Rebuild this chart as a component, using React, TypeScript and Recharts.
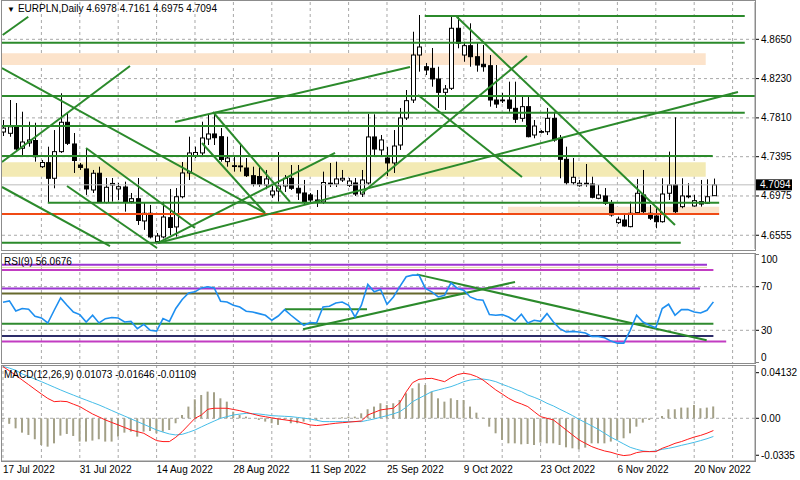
import React from 'react';
import { ComposedChart, Bar, Line, XAxis, YAxis, CartesianGrid, ReferenceLine, ReferenceArea } from 'recharts';

const FONT = '"Liberation Sans", Arial, sans-serif';
const GREEN = '#2b8a2b';
const GRID = '#a8a8a8';
const FRAME = '#8c8c8c';

const X_MIN = -0.156;
const X_MAX = 117.5;
const P_MIN = 4.6408;
const P_MAX = 4.9049;
const M_MIN = -0.0387;
const M_MAX = 0.0483;

// EURPLN daily, 17 Jul 2022 - 23 Nov 2022
const opens = [
  4.7659, 4.7645, 4.7715, 4.7485, 4.7542, 4.7568, 4.7288, 4.7331, 4.7164, 4.7449,
  4.7763, 4.7531, 4.7306, 4.7264, 4.7039, 4.7218, 4.6905, 4.7093, 4.705, 4.7071,
  4.6914, 4.6946, 4.6708, 4.679, 4.6487, 4.6537, 4.6743, 4.6644, 4.6967, 4.7221,
  4.7408, 4.7435, 4.7584, 4.7638, 4.7609, 4.7342, 4.729, 4.7287, 4.7274, 4.7192,
  4.7183, 4.7093, 4.6986, 4.7028, 4.7082, 4.7164, 4.7057, 4.7007, 4.6986, 4.6932,
  4.6911, 4.7112, 4.7103, 4.7146, 4.7087, 4.7114, 4.6996, 4.7114, 4.7606, 4.7467,
  4.7381, 4.7328, 4.752, 4.7809, 4.8001, 4.8482, 4.8357, 4.834, 4.8226, 4.8083,
  4.8126, 4.8768, 4.8482, 4.8582, 4.8464, 4.8383, 4.8368, 4.8001, 4.7996, 4.8001,
  4.7912, 4.7805, 4.793, 4.7627, 4.7659, 4.7662, 4.7805, 4.7592, 4.7367, 4.7117,
  4.7085, 4.7108, 4.7103, 4.695, 4.6975, 4.6897, 4.669, 4.6718, 4.6647, 4.6797,
  4.6986, 4.679, 4.6761, 4.67, 4.7004, 4.7093, 4.6861, 4.6972, 4.6868, 4.6914,
  4.6897, 4.6978,
];
const highs = [
  4.7787, 4.8001, 4.7969, 4.7876, 4.7769, 4.7758, 4.736, 4.7502, 4.768, 4.8073,
  4.7862, 4.7648, 4.7328, 4.7477, 4.7253, 4.7288, 4.7167, 4.7167, 4.7114, 4.7128,
  4.7007, 4.7167, 4.69, 4.6879, 4.6579, 4.6914, 4.705, 4.706, 4.7338, 4.7609,
  4.7502, 4.7769, 4.7841, 4.7862, 4.7702, 4.7609, 4.7413, 4.7541, 4.7381, 4.7288,
  4.7288, 4.7253, 4.7082, 4.7445, 4.7199, 4.7306, 4.7306, 4.7146, 4.7007, 4.7039,
  4.7235, 4.7328, 4.7342, 4.7253, 4.7167, 4.7167, 4.7253, 4.7851, 4.7848, 4.7627,
  4.7499, 4.768, 4.7916, 4.8108, 4.8731, 4.891, 4.8397, 4.8557, 4.8357, 4.8161,
  4.8891, 4.8891, 4.8624, 4.8821, 4.861, 4.8589, 4.8482, 4.8375, 4.8076, 4.8197,
  4.8197, 4.8036, 4.8054, 4.7787, 4.768, 4.7916, 4.7876, 4.7627, 4.7502, 4.7381,
  4.7146, 4.7317, 4.7181, 4.7093, 4.706, 4.6932, 4.6754, 4.6793, 4.6914, 4.7157,
  4.7253, 4.6879, 4.6861, 4.7164, 4.7449, 4.7816, 4.7164, 4.7111, 4.6986, 4.7146,
  4.7153, 4.7161,
];
const lows = [
  4.7616, 4.7608, 4.7449, 4.7413, 4.7502, 4.7342, 4.7274, 4.6905, 4.7057, 4.7435,
  4.752, 4.7221, 4.7253, 4.6986, 4.7007, 4.69, 4.6895, 4.6914, 4.6932, 4.6807,
  4.6895, 4.6665, 4.6612, 4.6521, 4.6473, 4.6521, 4.6558, 4.654, 4.695, 4.7146,
  4.7381, 4.7413, 4.752, 4.752, 4.7342, 4.7288, 4.7235, 4.7235, 4.7178, 4.7077,
  4.7074, 4.7047, 4.6954, 4.6914, 4.7018, 4.7039, 4.6932, 4.6879, 4.6911, 4.6857,
  4.6889, 4.7071, 4.7071, 4.7125, 4.7071, 4.6975, 4.6964, 4.7093, 4.7392, 4.7392,
  4.7189, 4.7221, 4.7467, 4.7787, 4.7969, 4.8304, 4.8268, 4.8143, 4.7916, 4.7894,
  4.8108, 4.8554, 4.841, 4.8357, 4.8304, 4.8304, 4.793, 4.7916, 4.7969, 4.7876,
  4.7755, 4.7769, 4.7602, 4.7592, 4.7645, 4.7627, 4.7555, 4.7164, 4.7093, 4.7093,
  4.7074, 4.7074, 4.695, 4.694, 4.6879, 4.6754, 4.6676, 4.6647, 4.664, 4.679,
  4.6772, 4.6718, 4.663, 4.669, 4.6932, 4.679, 4.6844, 4.695, 4.6861, 4.6861,
  4.6889, 4.6975,
];
const closes = [
  4.7701, 4.7715, 4.7478, 4.7552, 4.7574, 4.7395, 4.7333, 4.7164, 4.7449, 4.7763,
  4.7538, 4.7354, 4.728, 4.705, 4.7218, 4.6916, 4.7068, 4.7109, 4.7074, 4.6914,
  4.6946, 4.6713, 4.679, 4.6537, 4.6547, 4.675, 4.6638, 4.6967, 4.7221, 4.7435,
  4.744, 4.7595, 4.7638, 4.7598, 4.7365, 4.7381, 4.7299, 4.7296, 4.7192, 4.7103,
  4.7098, 4.7157, 4.7028, 4.7082, 4.7164, 4.7057, 4.7007, 4.6905, 4.6932, 4.6911,
  4.7119, 4.7103, 4.7157, 4.7164, 4.7135, 4.6996, 4.7146, 4.7606, 4.7477, 4.7574,
  4.7328, 4.7509, 4.7809, 4.7994, 4.8482, 4.8568, 4.8322, 4.8226, 4.8083, 4.8119,
  4.8768, 4.8607, 4.8582, 4.8464, 4.8375, 4.8357, 4.8001, 4.7958, 4.8001, 4.7912,
  4.7795, 4.793, 4.7609, 4.7723, 4.7664, 4.7805, 4.7574, 4.7367, 4.7117, 4.7175,
  4.7111, 4.7111, 4.6961, 4.6986, 4.6897, 4.6772, 4.6726, 4.6654, 4.679, 4.7004,
  4.6807, 4.6737, 4.67, 4.6996, 4.7093, 4.6807, 4.6975, 4.6975, 4.6925, 4.6889,
  4.6967, 4.7094,
];
const rsi9 = [
  55.8, 57.0, 47.7, 50.0, 49.3, 42.9, 41.3, 36.7, 48.4, 59.7,
  53.0, 46.8, 44.4, 37.6, 43.8, 36.7, 40.7, 41.7, 41.3, 37.6,
  38.2, 31.5, 35.5, 30.0, 29.3, 40.7, 38.2, 50.0, 58.2, 64.3,
  65.3, 68.9, 69.9, 68.9, 56.7, 56.0, 53.0, 51.4, 47.5, 46.8,
  45.3, 43.8, 39.2, 43.1, 49.0, 43.8, 39.2, 34.6, 37.1, 36.7,
  51.4, 52.1, 55.1, 56.0, 53.0, 42.2, 53.0, 72.1, 65.3, 67.5,
  53.9, 60.6, 70.0, 79.1, 80.6, 80.6, 68.4, 65.3, 60.6, 62.2,
  73.5, 68.4, 66.8, 60.6, 58.2, 57.6, 44.4, 43.8, 44.4, 42.2,
  38.5, 44.7, 36.7, 39.2, 38.2, 45.3, 37.6, 31.5, 28.4, 29.0,
  28.4, 27.5, 24.4, 24.4, 23.2, 20.1, 18.2, 18.2, 30.0, 43.8,
  37.6, 34.6, 32.4, 50.0, 53.9, 43.8, 49.0, 49.0, 46.8, 45.9,
  48.4, 56.0676,
];
const macdMain = [
  0.0468, 0.043, 0.039, 0.0347, 0.0305, 0.0262, 0.022, 0.018, 0.0151, 0.0155,
  0.0151, 0.0128, 0.0106, 0.0072, 0.0039, 0.0012, -0.0015, -0.0038, -0.006, -0.0083,
  -0.0106, -0.0121, -0.0136, -0.017, -0.0202, -0.0211, -0.0211, -0.0172, -0.0121, -0.006,
  0.0, 0.003, 0.0082, 0.0091, 0.0091, 0.0091, 0.008, 0.0069, 0.0054, 0.0039,
  0.0024, 0.0014, 0.0004, -0.0006, -0.0014, -0.0022, -0.003, -0.0045, -0.006, -0.0066,
  -0.006, -0.0052, -0.0045, -0.004, -0.0035, -0.003, -0.0024, 0.003, 0.0053, 0.0076,
  0.0084, 0.0091, 0.014, 0.024, 0.0323, 0.0353, 0.0359, 0.0362, 0.0347, 0.0332,
  0.0368, 0.0396, 0.0408, 0.0399, 0.0378, 0.0347, 0.0302, 0.0257, 0.022, 0.0181,
  0.0151, 0.013, 0.0106, 0.006, 0.0015, 0.0, -0.0015, -0.006, -0.0106, -0.0151,
  -0.0196, -0.0227, -0.0257, -0.0278, -0.0296, -0.0308, -0.0326, -0.0338, -0.0332, -0.0311,
  -0.0302, -0.0302, -0.0302, -0.0272, -0.0251, -0.0227, -0.0211, -0.019, -0.017, -0.0155,
  -0.0135, -0.01109,
];
const macdSignal = [
  0.047, 0.0455, 0.0435, 0.0402, 0.038, 0.0355, 0.0332, 0.0307, 0.0282, 0.0257,
  0.0233, 0.021, 0.0187, 0.0165, 0.0143, 0.0121, 0.0096, 0.007, 0.0045, 0.002,
  -0.0005, -0.003, -0.0055, -0.008, -0.0106, -0.0125, -0.0142, -0.0151, -0.0145, -0.0127,
  -0.0106, -0.0078, -0.0051, -0.0025, 0.0, 0.0015, 0.003, 0.0038, 0.0045, 0.0042,
  0.0039, 0.0032, 0.0024, 0.0021, 0.0018, 0.0015, 0.0008, 0.0001, -0.0006, -0.0018,
  -0.003, -0.003, -0.003, -0.003, -0.003, -0.003, -0.003, -0.0018, -0.0006, 0.0009,
  0.0024, 0.004, 0.006, 0.01, 0.0151, 0.0181, 0.0211, 0.0242, 0.0257, 0.0272,
  0.0287, 0.0308, 0.0332, 0.0347, 0.0353, 0.0356, 0.0347, 0.0332, 0.0308, 0.0287,
  0.0263, 0.0242, 0.0211, 0.019, 0.0166, 0.0136, 0.0112, 0.0082, 0.0054, 0.0024,
  -0.0009, -0.0039, -0.0069, -0.01, -0.0136, -0.0172, -0.0202, -0.0233, -0.0263, -0.0281,
  -0.0296, -0.0302, -0.0296, -0.0281, -0.0272, -0.026, -0.0245, -0.0232, -0.0218, -0.0202,
  -0.0185, -0.01646,
];
const macdHist = [
  -0.0005, -0.005, -0.0091, -0.013, -0.0151, -0.019, -0.0242, -0.0257, -0.0227, -0.0157,
  -0.0142, -0.016, -0.0211, -0.0211, -0.0202, -0.019, -0.0211, -0.0211, -0.0166, -0.013,
  -0.0121, -0.0166, -0.0121, -0.0115, -0.0136, -0.0121, -0.0106, -0.0045, 0.003, 0.0106,
  0.0172, 0.0211, 0.0242, 0.0236, 0.0181, 0.0151, 0.006, 0.003, 0.0015, 0.0,
  -0.0015, -0.003, -0.0045, -0.006, -0.0015, -0.0045, -0.0045, -0.003, -0.0009, -0.0015,
  0.0, 0.0003, 0.0005, 0.0009, 0.0015, 0.0015, 0.0045, 0.0082, 0.0106, 0.0136,
  0.0121, 0.0136, 0.0166, 0.0227, 0.0272, 0.0317, 0.0302, 0.0242, 0.0181, 0.0151,
  0.0181, 0.0166, 0.0166, 0.0106, 0.0051, 0.0006, -0.0076, -0.0136, -0.0196, -0.0227,
  -0.0227, -0.0236, -0.0233, -0.0242, -0.022, -0.0227, -0.0227, -0.0242, -0.0263, -0.0272,
  -0.0281, -0.0266, -0.0227, -0.0227, -0.0227, -0.0211, -0.0196, -0.0181, -0.0136, -0.0076,
  -0.0039, -0.0015, 0.0, 0.0021, 0.0082, 0.0082, 0.0097, 0.0097, 0.0121, 0.0091,
  0.0097, 0.01073,
];

const dateTicks = [0, 12, 24, 36, 48, 60, 72, 84, 96, 108];
const dateLabels = [
  '17 Jul 2022', '31 Jul 2022', '14 Aug 2022', '28 Aug 2022', '11 Sep 2022',
  '25 Sep 2022', '9 Oct 2022', '23 Oct 2022', '6 Nov 2022', '20 Nov 2022',
];
const weekLines = [0, 6, 12, 18, 24, 30, 36, 42, 48, 54, 60, 66, 72, 78, 84, 90, 96, 102, 108, 114];
const priceTicks = [4.865, 4.823, 4.781, 4.7395, 4.6975, 4.6555];
const rsiTicks = [0, 30, 70, 100];
const macdTicks = [0.04132, 0, -0.0335];
const macdTickLabels = ['0.04132', '0.00', '-0.0335'];

// drawn objects, in bar index / price units
const zones = [
  { x1: -0.16, x2: 109.8, y1: 4.8375, y2: 4.85, kind: 'peach' },
  { x1: -0.16, x2: 109.8, y1: 4.7181, y2: 4.7335, kind: 'khaki' },
  { x1: 78.9, x2: 111.9, y1: 4.679, y2: 4.6861, kind: 'peach' },
];
const levels = [
  { y: 4.8899, from: 65.9, to: 115.9 },
  { y: 4.8614, from: -0.16, to: 115.9 },
  { y: 4.8044, from: -0.16, to: 117.5 },
  { y: 4.7865, from: 33.1, to: 115.9 },
  { y: 4.7723, from: -0.16, to: 81.9 },
  { y: 4.7402, from: -0.16, to: 110.9 },
  { y: 4.6903, from: 7.0, to: 111.9 },
  { y: 4.6476, from: -0.16, to: 105.9 },
];
const redLevel = { y: 4.6783, from: -0.16, to: 111.9 };
const trendLines = [
  [-0.05, 4.8696, 3.95, 4.8891],
  [-0.16, 4.7338, 19.84, 4.8365],
  [-0.16, 4.8343, 40.94, 4.6793],
  [-0.16, 4.7071, 16.72, 4.644],
  [10.0, 4.7082, 24.06, 4.6419],
  [12.97, 4.7488, 30.0, 4.6633],
  [24.22, 4.6473, 51.88, 4.7435],
  [24.22, 4.6473, 114.84, 4.8087],
  [26.88, 4.7766, 63.59, 4.8354],
  [32.81, 4.7873, 44.84, 4.6911],
  [31.09, 4.7541, 40.94, 4.6793],
  [56.09, 4.7007, 81.88, 4.8471],
  [64.84, 4.8055, 81.09, 4.7178],
  [70.89, 4.8891, 105.0, 4.6665],
];
const rsiLevels = [
  { y: 90.1, to: 110 },
  { y: 87.7, to: 110 },
  { y: 85.3, to: 111 },
  { y: 68.4, to: 108.9 },
  { y: 63.8, to: 72.5 },
  { y: 36.1, to: 111 },
  { y: 24.7, to: 111 },
  { y: 19.8, to: 113 },
];
const RSI_LEVEL_COLORS = ['#9c35d2', '#e3d9a2', '#c23cc2', '#9c35d2', '#66692c', '#2f8a2f', '#2c2c68', '#c23cc2'];
const rsiTrendLines = [
  [44.06, 49.3, 56.88, 49.3],
  [46.88, 31.0, 80, 74.3],
  [64.64, 81.3, 109.95, 20.8],
];

const lastClose = closes[closes.length - 1];

const rows = opens.map((open, i) => ({
  i,
  open,
  high: highs[i],
  low: lows[i],
  close: closes[i],
  range: [lows[i], highs[i]],
  rsi: rsi9[i],
  macd: macdMain[i],
  signal: macdSignal[i],
  hist: macdHist[i],
}));

function Candle(props: any) {
  const { x, y, width, height, payload } = props;
  if (!payload || x == null) return null;
  const { open, close, high, low } = payload;
  const top = Math.min(y, y + height);
  const h = Math.abs(height);
  const span = high - low;
  const toY = (v: number) => (span === 0 ? top : top + ((high - v) / span) * h);
  const cx = Math.round(x + width / 2);
  const bodyTop = toY(Math.max(open, close));
  const bodyBot = toY(Math.min(open, close));
  const bull = close >= open;
  return (
    <g>
      <line x1={cx + 0.5} x2={cx + 0.5} y1={top} y2={top + h} stroke="#000" strokeWidth={1} />
      <rect
        x={cx - 1.5}
        y={bodyTop}
        width={4}
        height={Math.max(bodyBot - bodyTop, 0.8)}
        fill={bull ? '#fff' : '#000'}
        stroke="#000"
        strokeWidth={1}
      />
    </g>
  );
}

const textStyle = { fontFamily: FONT, fontSize: 10, fill: '#000' };

function PriceTick(props: any) {
  const { x, y, payload } = props;
  const v = payload.value;
  if (v === lastClose) {
    return (
      <g>
        <rect x={x - 6} y={y - 5.5} width={37} height={11} fill="#000" />
        <text x={x - 1} y={y} dy="0.35em" {...textStyle} fill="#fff">{v.toFixed(4)}</text>
      </g>
    );
  }
  return <text x={x} y={y} dy="0.35em" {...textStyle}>{v.toFixed(4)}</text>;
}

function RsiTick(props: any) {
  const { x, y, payload } = props;
  const v = payload.value;
  const shift = v === 100 ? 5 : v === 0 ? -6 : 0;
  return <text x={x} y={y + shift} dy="0.35em" {...textStyle}>{v}</text>;
}

function MacdTick(props: any) {
  const { x, y, payload } = props;
  const k = macdTicks.indexOf(payload.value);
  return <text x={x} y={y} dy="0.35em" {...textStyle}>{macdTickLabels[k]}</text>;
}

function DateTick(props: any) {
  const { x, y, payload } = props;
  const k = dateTicks.indexOf(payload.value);
  return <text x={x} y={y} dy={12} textAnchor="start" {...textStyle}>{dateLabels[k]}</text>;
}

const panel = (top: number, height: number): React.CSSProperties => ({
  position: 'absolute',
  left: 1,
  top,
  width: 755,
  height,
  boxSizing: 'border-box',
  border: `1px solid ${FRAME}`,
  pointerEvents: 'none',
});

const label = (left: number, top: number): React.CSSProperties => ({
  position: 'absolute',
  left,
  top,
  fontFamily: FONT,
  fontSize: 10,
  lineHeight: '12px',
  color: '#000',
  whiteSpace: 'nowrap',
});

export default function App() {
  return (
    <div style={{ position: 'absolute', left: 0, top: 0, width: 800, height: 480, background: '#fff', overflow: 'hidden' }}>
      <div style={{ position: 'absolute', left: 0, top: 0 }}>
        <ComposedChart width={800} height={250} data={rows} margin={{ top: 2, right: 0, bottom: 1, left: 2 }}>
          <CartesianGrid stroke={GRID} strokeDasharray="3 3" horizontalValues={priceTicks} verticalValues={weekLines} />
          <XAxis type="number" dataKey="i" domain={[X_MIN, X_MAX]} allowDataOverflow hide />
          <YAxis
            orientation="right"
            domain={[P_MIN, P_MAX]}
            allowDataOverflow
            ticks={[...priceTicks, lastClose]}
            interval={0}
            tick={PriceTick}
            width={45}
            tickSize={4}
            tickMargin={2}
            axisLine={{ stroke: FRAME }}
            tickLine={{ stroke: '#000' }}
          />
          {zones.map((z, k) => (
            <ReferenceArea
              key={`z${k}`}
              x1={z.x1}
              x2={z.x2}
              y1={z.y1}
              y2={z.y2}
              fill={z.kind === 'peach' ? '#fce3cb' : '#f3eab4'}
              fillOpacity={1}
              stroke="none"
              ifOverflow="hidden"
            />
          ))}
          <ReferenceLine y={lastClose} stroke="#bdbdbd" strokeWidth={1} />
          {levels.map((l, k) => (
            <ReferenceLine
              key={`l${k}`}
              segment={[{ x: l.from, y: l.y }, { x: l.to, y: l.y }]}
              stroke={GREEN}
              strokeWidth={2}
              ifOverflow="hidden"
            />
          ))}
          <ReferenceLine
            segment={[{ x: redLevel.from, y: redLevel.y }, { x: redLevel.to, y: redLevel.y }]}
            stroke="#f04a14"
            strokeWidth={2}
            ifOverflow="hidden"
          />
          {trendLines.map((t, k) => (
            <ReferenceLine
              key={`t${k}`}
              segment={[{ x: t[0], y: t[1] }, { x: t[2], y: t[3] }]}
              stroke={GREEN}
              strokeWidth={2}
              ifOverflow="hidden"
            />
          ))}
          <Bar dataKey="range" shape={(p: any) => <Candle {...p} />} barSize={5} isAnimationActive={false} />
        </ComposedChart>
      </div>

      <div style={{ position: 'absolute', left: 0, top: 254 }}>
        <ComposedChart width={800} height={109} data={rows} margin={{ top: 0, right: 0, bottom: 0, left: 2 }}>
          <CartesianGrid stroke={GRID} strokeDasharray="3 3" horizontalValues={[30, 70]} verticalValues={weekLines} />
          <XAxis type="number" dataKey="i" domain={[X_MIN, X_MAX]} allowDataOverflow hide />
          <YAxis
            orientation="right"
            domain={[0, 100]}
            allowDataOverflow
            ticks={rsiTicks}
            interval={0}
            tick={RsiTick}
            width={45}
            tickSize={4}
            tickMargin={2}
            axisLine={{ stroke: FRAME }}
            tickLine={{ stroke: '#000' }}
          />
          {rsiLevels.map((l, k) => (
            <ReferenceLine
              key={`r${k}`}
              segment={[{ x: -0.16, y: l.y }, { x: l.to, y: l.y }]}
              stroke={RSI_LEVEL_COLORS[k]}
              strokeWidth={k === 1 ? 1 : 2}
              ifOverflow="hidden"
            />
          ))}
          {rsiTrendLines.map((t, k) => (
            <ReferenceLine
              key={`rt${k}`}
              segment={[{ x: t[0], y: t[1] }, { x: t[2], y: t[3] }]}
              stroke={GREEN}
              strokeWidth={2}
              ifOverflow="hidden"
            />
          ))}
          <Line type="linear" dataKey="rsi" stroke="#1e8ff0" strokeWidth={1.6} dot={false} isAnimationActive={false} />
        </ComposedChart>
      </div>

      <div style={{ position: 'absolute', left: 0, top: 365 }}>
        <ComposedChart width={800} height={115} data={rows} margin={{ top: 0, right: 0, bottom: 0, left: 2 }}>
          <CartesianGrid stroke={GRID} strokeDasharray="3 3" horizontalValues={[0]} verticalValues={weekLines} />
          <XAxis
            type="number"
            dataKey="i"
            domain={[X_MIN, X_MAX]}
            allowDataOverflow
            ticks={dateTicks}
            interval={0}
            tick={DateTick}
            height={19}
            tickSize={0}
            tickMargin={0}
            tickLine={false}
            axisLine={{ stroke: FRAME }}
          />
          <YAxis
            orientation="right"
            domain={[M_MIN, M_MAX]}
            allowDataOverflow
            ticks={macdTicks}
            interval={0}
            tick={MacdTick}
            width={45}
            tickSize={4}
            tickMargin={2}
            axisLine={{ stroke: FRAME }}
            tickLine={{ stroke: '#000' }}
          />
          <Bar dataKey="hist" fill="#a3a087" barSize={2} isAnimationActive={false} />
          <Line type="linear" dataKey="signal" stroke="#45bde8" strokeWidth={1} dot={false} isAnimationActive={false} />
          <Line type="linear" dataKey="macd" stroke="#ff1a1a" strokeWidth={1} dot={false} isAnimationActive={false} />
        </ComposedChart>
      </div>

      <div style={panel(0, 251)} />
      <div style={panel(253, 111)} />
      <div style={panel(365, 97)} />

      <div style={label(7, 3)}>
        <span style={{ fontSize: 8, marginRight: 3 }}>▼</span>EURPLN,Daily 4.6978 4.7161 4.6975 4.7094
      </div>
      <div style={label(4, 256)}>RSI(9) 56.0676</div>
      <div style={label(4, 369)}>MACD(12,26,9) 0.01073 -0.01646 -0.01109</div>
    </div>
  );
}
